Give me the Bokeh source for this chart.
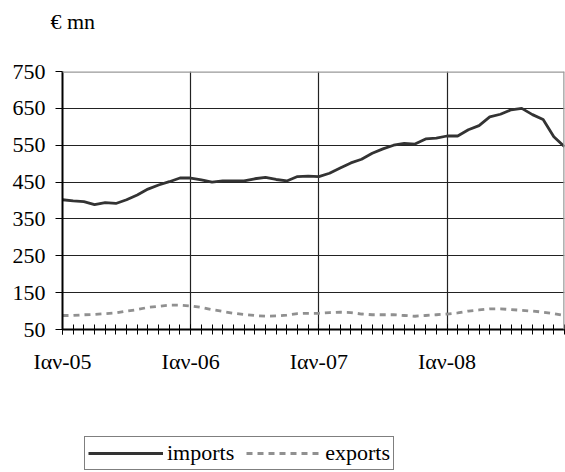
from bokeh.plotting import figure
from bokeh.layouts import column
from bokeh.models import (Range1d, FixedTicker, Span, Legend, LegendItem,
                          ColumnDataSource)
from bokeh.embed import file_html
from bokeh.resources import INLINE

# ---- data (monthly, Jan-05 .. Dec-08) ----
months = list(range(48))
imports = [402, 399, 397, 389, 394, 392, 402, 415, 431, 442, 451, 461,
           461, 456, 450, 453, 453, 453, 459, 463, 457, 453, 465, 466,
           465, 474, 488, 502, 512, 528, 540, 550, 555, 553, 567, 569,
           575, 575, 592, 603, 627, 634, 646, 650, 633, 620, 573, 546]
exports = [88, 88, 90, 91, 93, 95, 100, 104, 110, 113, 116, 116,
           114, 110, 104, 99, 94, 91, 88, 86, 87, 89, 93, 94,
           94, 96, 97, 96, 92, 90, 90, 90, 88, 86, 88, 90,
           92, 95, 100, 103, 106, 106, 104, 102, 100, 97, 93, 88]
year_ticks = [0, 12, 24, 36]
year_labels = ["Ιαν-05", "Ιαν-06", "Ιαν-07", "Ιαν-08"]
y_ticks = [50, 150, 250, 350, 450, 550, 650, 750]
series_names = ["imports", "exports"]
unit_text = "€ mn"

FONT = "Liberation Serif"
IMP_STYLE = dict(line_color="#333333", line_width=2.8)
EXP_STYLE = dict(line_color="#909090", line_width=2.8, line_dash="6 5")


def blank_strip(h, **kw):
    f = figure(width=565, height=h, output_backend="svg", toolbar_location=None,
               x_range=Range1d(0, 1), y_range=Range1d(0, 1),
               x_axis_type=None, y_axis_type=None, **kw)
    f.outline_line_color = None
    f.xgrid.visible = False
    f.ygrid.visible = False
    f.background_fill_color = "white"
    f.border_fill_color = "white"
    return f


# ---- top strip with unit label ----
p0 = blank_strip(40, min_border_left=62, min_border_right=1,
                 min_border_top=39, min_border_bottom=0)
p0.title.text = unit_text
p0.title.text_font = FONT
p0.title.text_font_size = "22px"
p0.title.text_font_style = "normal"
p0.title.text_color = "black"
p0.title.align = "left"
p0.title.offset = -12
p0.title.standoff = 12

# ---- main chart ----
p = figure(width=565, height=392, output_backend="svg", toolbar_location=None,
           x_range=Range1d(0, 47), y_range=Range1d(50, 750))
p.min_border_left = 62
p.min_border_right = 1
p.min_border_top = 31
p.min_border_bottom = 103
p.outline_line_color = None
p.background_fill_color = "white"
p.border_fill_color = "white"

src = ColumnDataSource(dict(m=months, imp=imports, exp=exports))
p.line("m", "imp", source=src, **IMP_STYLE)
p.line("m", "exp", source=src, **EXP_STYLE)

xa = p.xaxis[0]
xa.ticker = FixedTicker(ticks=year_ticks, minor_ticks=months)
xa.major_label_overrides = {t: l for t, l in zip(year_ticks, year_labels)}
xa.major_label_text_font = FONT
xa.major_label_text_font_size = "22px"
xa.major_label_text_color = "black"
xa.major_label_standoff = 14
xa.axis_line_color = "black"
xa.axis_line_width = 2
xa.major_tick_in = 5
xa.major_tick_out = 5
xa.minor_tick_in = 5
xa.minor_tick_out = 5
xa.major_tick_line_color = "black"
xa.minor_tick_line_color = "black"
xa.major_tick_line_width = 1
xa.minor_tick_line_width = 1

ya = p.yaxis[0]
ya.ticker = FixedTicker(ticks=y_ticks)
ya.major_label_text_font = FONT
ya.major_label_text_font_size = "22px"
ya.major_label_text_color = "black"
ya.major_label_standoff = 10
ya.axis_line_color = "black"
ya.axis_line_width = 2
ya.major_tick_in = 0
ya.major_tick_out = 7
ya.major_tick_line_color = "black"
ya.minor_tick_line_color = None

p.xgrid.ticker = FixedTicker(ticks=year_ticks[1:])
p.xgrid.grid_line_color = "#222222"
p.xgrid.grid_line_width = 1.2
p.ygrid.ticker = FixedTicker(ticks=y_ticks[1:-1])
p.ygrid.grid_line_color = "#222222"
p.ygrid.grid_line_width = 1.2

p.add_layout(Span(location=750, dimension="width", line_color="#999999", line_width=2.5))
p.add_layout(Span(location=47, dimension="height", line_color="#999999", line_width=2.5))

# ---- legend strip ----
p2 = blank_strip(40, min_border_left=62, min_border_right=1,
                 min_border_top=0, min_border_bottom=0)
# proxies (outside the strip's visible range) that only supply legend glyphs
l_imp = p2.line(months, imports, **IMP_STYLE)
l_exp = p2.line(months, exports, **EXP_STYLE)

legend = Legend(items=[LegendItem(label=series_names[0], renderers=[l_imp]),
                       LegendItem(label=series_names[1], renderers=[l_exp])],
                orientation="horizontal", location=(22, 2))
legend.label_text_font = FONT
legend.label_text_font_size = "22px"
legend.label_text_color = "black"
legend.glyph_width = 75
legend.glyph_height = 22
legend.label_height = 22
legend.label_standoff = 4
legend.spacing = 12
legend.padding = 3
legend.margin = 0
legend.border_line_color = "black"
legend.border_line_width = 1.5
legend.background_fill_alpha = 1
p2.add_layout(legend, "center")

open("out.html", "w").write(file_html(column(p0, p, p2, spacing=0), INLINE))
